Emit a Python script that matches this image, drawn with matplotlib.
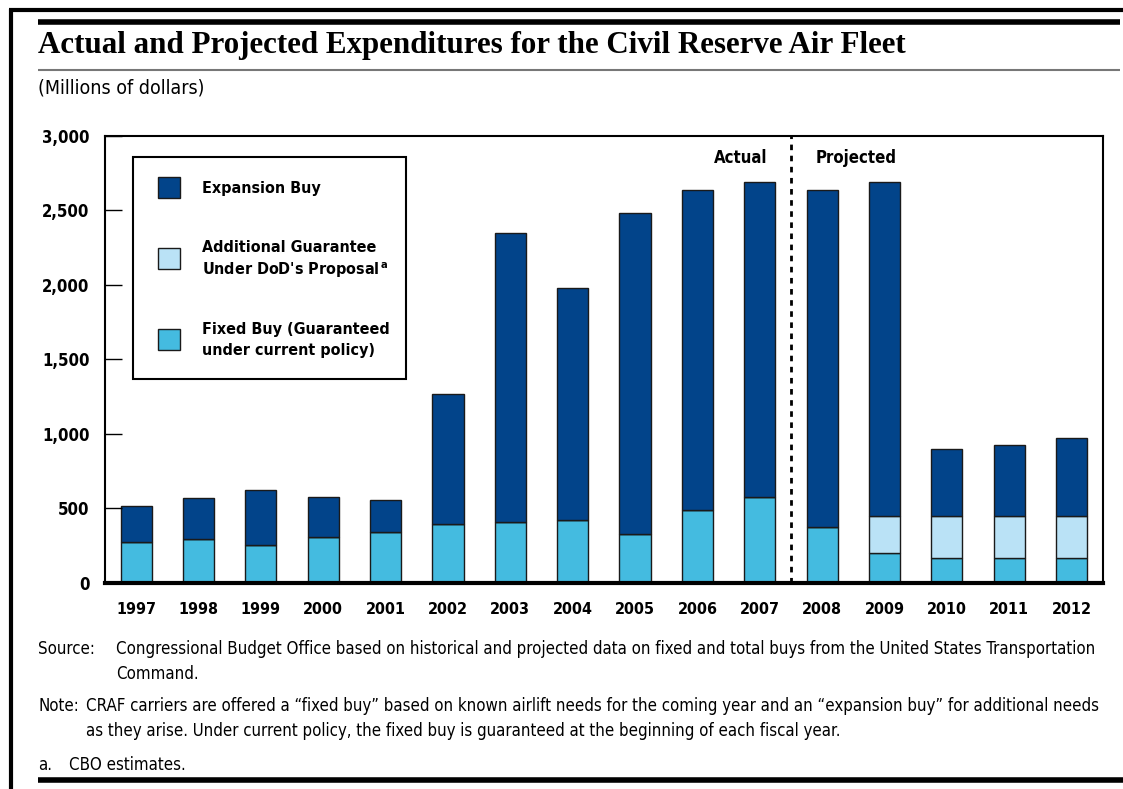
import numpy as np
import matplotlib.pyplot as plt
from matplotlib.patches import Rectangle
from matplotlib.lines import Line2D

years = ["1997", "1998", "1999", "2000", "2001", "2002", "2003", "2004",
         "2005", "2006", "2007", "2008", "2009", "2010", "2011", "2012"]
fixed_buy = [275, 293, 255, 304, 342, 396, 409, 423, 330, 490, 577, 376, 197, 168, 168, 168]
additional_guarantee = [0, 0, 0, 0, 0, 0, 0, 0, 0, 0, 0, 0, 248, 277, 277, 277]
expansion_buy = [242, 275, 367, 273, 215, 872, 1940, 1557, 2149, 2148, 2114, 2262, 2246, 454, 479, 523]
y_ticks = [0, 500, 1000, 1500, 2000, 2500, 3000]

col_expansion = "#02448a"
col_additional = "#bae2f6"
col_fixed = "#44bbe0"
edge = "#1a1a1a"

narrow = dict(family=["DejaVu Sans"], stretch="condensed")
serif = ["Liberation Serif", "DejaVu Serif"]

fig = plt.figure(figsize=(11.23, 7.89), dpi=100)
ax = fig.add_axes([0.0935, 0.2615, 0.8885, 0.5665])

x = np.arange(len(years))
fixed = np.array(fixed_buy)
addl = np.array(additional_guarantee)
expa = np.array(expansion_buy)

ax.bar(x, fixed, width=0.5, color=col_fixed, edgecolor=edge, linewidth=1)
ax.bar(x, addl, width=0.5, bottom=fixed, color=col_additional, edgecolor=edge, linewidth=1)
ax.bar(x, expa, width=0.5, bottom=fixed + addl, color=col_expansion, edgecolor=edge, linewidth=1)

ax.set_xlim(-0.5, 15.5)
ax.set_ylim(0, 3000)
ax.set_yticks(y_ticks)
ax.set_yticklabels([f"{v:,}" for v in y_ticks], fontsize=12, fontweight="bold", **narrow)
ax.set_xticks(x)
ax.set_xticklabels(years, fontsize=11.5, fontweight="bold", **narrow)
ax.tick_params(axis="y", direction="in", length=12, width=1, pad=11)
ax.tick_params(axis="x", length=0, pad=14)
for s in ["left", "top", "right"]:
    ax.spines[s].set_linewidth(1.5)
ax.spines["bottom"].set_linewidth(3)

# divider between actual and projected
ax.axvline(10.5, color="black", linestyle=(0, (2, 2)), linewidth=2)
ax.text(10.12, 2850, "Actual", ha="right", va="center", fontsize=12, fontweight="bold", **narrow)
ax.text(10.9, 2850, "Projected", ha="left", va="center", fontsize=12, fontweight="bold", **narrow)

# legend box drawn by hand
ax.add_patch(Rectangle((0.028, 0.456), 0.274, 0.496, transform=ax.transAxes,
                       facecolor="white", edgecolor="black", linewidth=1.5, zorder=5))
legend_patches = [(col_expansion, 0.885), (col_additional, 0.726), (col_fixed, 0.545)]
legend_lines = [
    ("Expansion Buy", 0.885),
    ("Additional Guarantee", 0.753),
    ("Under DoD's Proposal$^{\\mathregular{\\,a}}$", 0.704),
    ("Fixed Buy (Guaranteed", 0.570),
    ("under current policy)", 0.523),
]
for c, yc in legend_patches:
    ax.add_patch(Rectangle((0.053, yc - 0.0235), 0.022, 0.047, transform=ax.transAxes,
                           facecolor=c, edgecolor=edge, linewidth=1, zorder=6))
for label, yc in legend_lines:
    ax.text(0.097, yc, label, transform=ax.transAxes, ha="left", va="center_baseline",
            fontsize=11.5, fontweight="bold", zorder=6, **narrow)

# frame lines
fig.add_artist(Line2D([0.008, 1.0], [1 - 10 / 789] * 2, color="black", linewidth=3,
                      solid_capstyle="butt"))
fig.add_artist(Line2D([0.0095, 0.0095], [0, 1 - 8.5 / 789], color="black", linewidth=3,
                      solid_capstyle="butt"))
fig.add_artist(Line2D([0.034, 0.997], [1 - 21.5 / 789] * 2, color="black", linewidth=4,
                      solid_capstyle="butt"))
fig.add_artist(Line2D([0.034, 0.997], [1 - 69.5 / 789] * 2, color="#777777", linewidth=1.5,
                      solid_capstyle="butt"))
fig.add_artist(Line2D([0.034, 1.0], [1 - 780 / 789] * 2, color="black", linewidth=4,
                      solid_capstyle="butt"))

fig.text(0.034, 1 - 45 / 789, "Actual and Projected Expenditures for the Civil Reserve Air Fleet",
         ha="left", va="center", family=serif, fontsize=22.3, fontweight="bold")
fig.text(0.034, 1 - 88 / 789, "(Millions of dollars)", ha="left", va="center",
         fontsize=14, **narrow)

note_size = 12.1
fig.text(0.034, 1 - 649 / 789, "Source:", ha="left", va="center", fontsize=note_size, **narrow)
fig.text(0.103, 1 - 649 / 789,
         "Congressional Budget Office based on historical and projected data on fixed and total buys from the United States Transportation",
         ha="left", va="center", fontsize=note_size, **narrow)
fig.text(0.103, 1 - 674 / 789, "Command.", ha="left", va="center", fontsize=note_size, **narrow)
fig.text(0.034, 1 - 706 / 789, "Note:", ha="left", va="center", fontsize=note_size, **narrow)
fig.text(0.0765, 1 - 706 / 789,
         "CRAF carriers are offered a \u201cfixed buy\u201d based on known airlift needs for the coming year and an \u201cexpansion buy\u201d for additional needs",
         ha="left", va="center", fontsize=note_size, **narrow)
fig.text(0.0765, 1 - 731 / 789,
         "as they arise. Under current policy, the fixed buy is guaranteed at the beginning of each fiscal year.",
         ha="left", va="center", fontsize=note_size, **narrow)
fig.text(0.034, 1 - 765 / 789, "a.", ha="left", va="center", fontsize=note_size, **narrow)
fig.text(0.0615, 1 - 765 / 789, "CBO estimates.", ha="left", va="center", fontsize=note_size, **narrow)

fig.savefig("out.png", dpi=100)
